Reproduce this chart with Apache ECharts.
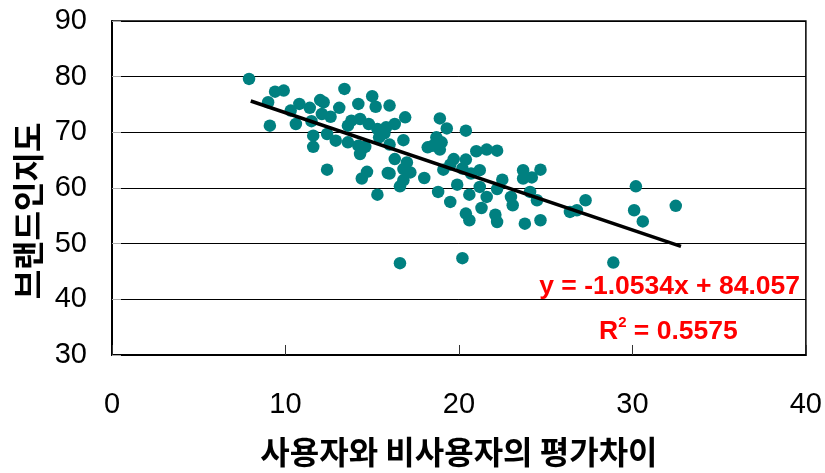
<!DOCTYPE html>
<html>
<head>
<meta charset="utf-8">
<script src="https://cdn.jsdelivr.net/npm/echarts@6/dist/echarts.min.js"></script>
<style>
html,body{margin:0;padding:0;background:#fff;}
#chart{width:825px;height:473px;}
</style>
</head>
<body>
<div id="chart"></div>
<script>
// Scatter data: [evaluation gap, brand awareness]
const xValues = [
  7.9, 9.4, 9.9, 9.0, 9.1, 10.3, 10.6, 10.8, 11.4, 11.5,
  11.6, 11.6, 12.0, 12.2, 12.1, 12.6, 12.4, 12.4, 13.1, 12.9,
  13.4, 13.6, 13.8, 13.6, 14.2, 14.3, 15.0, 15.2, 14.8, 14.2,
  14.6, 14.3, 14.7, 14.4, 15.3, 16.0, 16.3, 15.3, 15.8, 15.4,
  15.7, 16.0, 16.8, 16.9, 16.3, 15.9, 16.8, 17.0, 17.2, 16.8,
  16.6, 18.0, 18.2, 18.9, 19.3, 20.4, 18.7, 18.5, 19.0, 18.9,
  21.0, 21.6, 22.2, 19.7, 20.4, 19.5, 19.1, 20.2, 20.7, 21.2,
  19.9, 18.8, 19.5, 20.6, 21.2, 21.6, 22.2, 22.5, 21.3, 20.4,
  20.6, 22.1, 22.2, 23.0, 23.1, 23.7, 23.7, 24.2, 24.7, 24.1,
  24.5, 23.8, 24.7, 26.4, 26.8, 27.3, 30.2, 30.1, 30.6, 32.5,
  28.9, 16.6, 20.2, 14.4, 16.0
];
const yValues = [
  79.6, 77.3, 77.5, 75.4, 71.2, 73.9, 71.5, 75.1, 74.4, 72.0,
  69.4, 67.4, 75.8, 75.4, 73.3, 72.8, 69.7, 63.3, 74.4, 68.5,
  77.8, 71.2, 72.1, 68.2, 75.1, 72.4, 76.5, 74.6, 71.5, 67.6,
  67.4, 66.1, 62.9, 61.7, 58.8, 74.8, 71.5, 70.6, 70.9, 69.1,
  69.8, 67.8, 68.6, 72.7, 65.2, 62.7, 63.4, 64.6, 62.8, 61.4,
  60.3, 61.8, 67.3, 72.5, 70.7, 70.3, 69.1, 67.6, 68.2, 66.9,
  66.6, 66.9, 66.7, 65.2, 65.1, 64.2, 63.3, 63.5, 62.6, 63.2,
  60.6, 59.3, 57.5, 58.8, 60.2, 58.4, 59.8, 61.5, 56.4, 55.4,
  54.2, 55.2, 53.9, 58.4, 56.9, 63.2, 61.7, 61.9, 63.3, 59.3,
  57.8, 53.6, 54.2, 55.7, 56.0, 57.8, 60.3, 56.0, 54.0, 56.8,
  46.6, 46.5, 47.4, 67.0, 62.6
];
// Linear trend (as printed on the chart)
const slope = -1.0534;
const intercept = 84.057;
const r2 = 0.5575;
const trendXRange = [8.0, 32.8];

const xTicks = [0, 10, 20, 30, 40];
const yTicks = [30, 40, 50, 60, 70, 80, 90];
const xName = '사용자와 비사용자의 평가차이';
const yName = '브랜드인지도';

const scatterData = xValues.map((x, i) => [x, yValues[i]]);
const trendData = trendXRange.map(x => [x, slope * x + intercept]);

const chart = echarts.init(document.getElementById('chart'), null, {renderer: 'canvas'});
const numFont = '"Liberation Sans", Arial, sans-serif';
const krFont = '"Noto Sans CJK KR", sans-serif';

chart.setOption({
  animation: false,
  backgroundColor: '#fff',
  grid: {
    left: 112, right: 13, top: 21, bottom: 116,
    show: true, borderColor: '#000', borderWidth: 1.5, backgroundColor: 'transparent'
  },
  xAxis: {
    type: 'value',
    min: xTicks[0], max: xTicks[xTicks.length - 1], interval: 10,
    name: xName, nameLocation: 'middle', nameGap: 81,
    nameTextStyle: {fontFamily: krFont, fontSize: 32, fontWeight: 'bold', color: '#000'},
    axisLine: {show: true, onZero: false, lineStyle: {color: '#000', width: 2}},
    axisTick: {show: true, inside: true, length: 10, lineStyle: {color: '#333', width: 1}},
    axisLabel: {margin: 36, fontFamily: numFont, fontSize: 29, color: '#000',
      formatter: v => String(v)},
    splitLine: {show: false}
  },
  yAxis: {
    type: 'value',
    min: yTicks[0], max: yTicks[yTicks.length - 1], interval: 10,
    name: yName, nameLocation: 'middle', nameGap: 65, nameRotate: 90,
    nameTextStyle: {fontFamily: krFont, fontSize: 32, fontWeight: 'bold', color: '#000',
      padding: [0, 46, 0, 0]},
    axisLine: {show: true, onZero: false, lineStyle: {color: '#000', width: 2}},
    axisTick: {show: true, inside: true, length: 9, lineStyle: {color: '#aaa', width: 1}},
    axisLabel: {margin: 25, fontFamily: numFont, fontSize: 29, color: '#000'},
    splitLine: {show: true, lineStyle: {color: '#000', width: 1}}
  },
  series: [
    {
      type: 'scatter',
      data: scatterData,
      symbol: 'circle',
      symbolSize: 12.5,
      itemStyle: {color: '#008080', opacity: 1},
      z: 2
    },
    {
      type: 'line',
      data: trendData,
      symbol: 'none',
      lineStyle: {color: '#000', width: 3.5},
      z: 3
    }
  ],
  graphic: [
    {
      type: 'text', right: 25, top: 273,
      style: {
        text: 'y = ' + slope.toFixed(4) + 'x + ' + intercept.toFixed(3),
        font: 'bold 26.5px "Liberation Sans", Arial, sans-serif',
        fill: '#ff0000'
      }
    },
    {
      type: 'text', left: 599, top: 315,
      style: {
        text: '{a|R}{s|2}{a| = ' + r2.toFixed(4) + '}',
        rich: {
          a: {font: 'bold 26.5px "Liberation Sans", Arial, sans-serif', fill: '#ff0000', color: '#ff0000', verticalAlign: 'bottom', lineHeight: 30},
          s: {font: 'bold 15px "Liberation Sans", Arial, sans-serif', fill: '#ff0000', color: '#ff0000', verticalAlign: 'top', lineHeight: 30, padding: [0,0,14,0]}
        }
      }
    }
  ]
});
</script>
</body>
</html>
